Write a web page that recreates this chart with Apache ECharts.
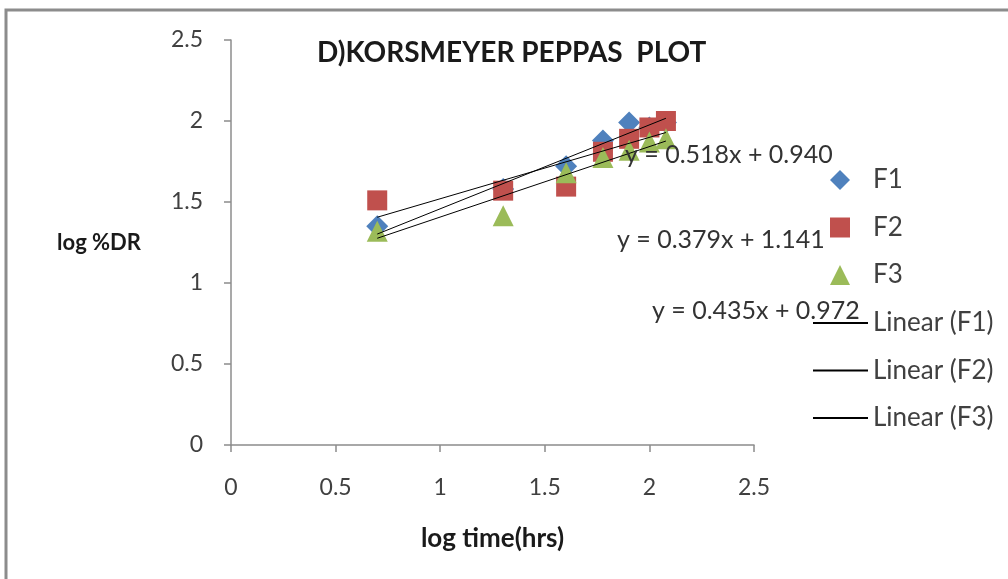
<!DOCTYPE html>
<html>
<head>
<meta charset="utf-8">
<script src="https://cdn.jsdelivr.net/npm/echarts@6/dist/echarts.min.js"></script>
<style>
html,body{margin:0;padding:0;background:#fff;}
#chart{width:1008px;height:579px;}
</style>
</head>
<body>
<div id="chart"></div>
<script>
// log time (hrs)
const logTime = [0.699, 1.301, 1.602, 1.778, 1.903, 2.0, 2.079];
// log %DR for each formulation
const f1 = [1.35, 1.58, 1.72, 1.88, 1.99, 1.96, 1.99];
const f2 = [1.51, 1.57, 1.595, 1.81, 1.89, 1.96, 2.0];
const f3 = [1.32, 1.415, 1.68, 1.775, 1.82, 1.87, 1.89];
const seriesNames = ['F1', 'F2', 'F3'];
const trendSlopes = [0.518, 0.379, 0.435];
const trendIntercepts = [0.940, 1.141, 0.972];
const equationTexts = ['y = 0.518x + 0.940', 'y = 0.379x + 1.141', 'y = 0.435x + 0.972'];
const axisTicks = [0, 0.5, 1, 1.5, 2, 2.5];

const FONT = 'Lato';
const colors = ['#4F81BD', '#C0504D', '#9BBB59'];
const symbols = ['diamond', 'rect', 'triangle'];
const symbolSizes = [22, 20, 21];
const allY = [f1, f2, f3];

const xMin = Math.min.apply(null, logTime);
const xMax = Math.max.apply(null, logTime);

const scatterSeries = seriesNames.map((n, i) => ({
  name: n,
  type: 'scatter',
  symbol: symbols[i],
  symbolSize: symbolSizes[i],
  itemStyle: { color: colors[i], opacity: 1 },
  z: 2,
  data: logTime.map((x, k) => [x, allY[i][k]])
}));

const trendNames = seriesNames.map(n => 'Linear (' + n + ')');
const trendSeries = seriesNames.map((n, i) => ({
  name: trendNames[i],
  type: 'line',
  symbol: 'none',
  lineStyle: { color: '#000', width: 1 },
  itemStyle: { color: '#000' },
  z: 3,
  data: [[xMin, trendSlopes[i] * xMin + trendIntercepts[i]],
         [xMax, trendSlopes[i] * xMax + trendIntercepts[i]]]
}));

const eqPos = [[625, 142], [617, 227], [652, 298]];

const chart = echarts.init(document.getElementById('chart'), null, { renderer: 'canvas' });
chart.setOption({
  animation: false,
  backgroundColor: '#fff',
  textStyle: { fontFamily: FONT },
  title: {
    text: 'D)KORSMEYER PEPPAS  PLOT',
    left: 312, top: 34,
    textStyle: { fontFamily: FONT, fontWeight: 'bold', fontSize: 28, color: '#1a1a1a' }
  },
  grid: { left: 231, right: 254, top: 40, bottom: 134, containLabel: false },
  xAxis: {
    type: 'value', min: axisTicks[0], max: axisTicks[axisTicks.length - 1], interval: 0.5,
    name: 'log time(hrs)', nameLocation: 'middle', nameGap: 81,
    nameTextStyle: { fontFamily: FONT, fontWeight: 'bold', fontSize: 26, color: '#1a1a1a' },
    axisLine: { lineStyle: { color: '#8c8c8c', width: 1.5 } },
    axisTick: { show: true, inside: false, length: 7, lineStyle: { color: '#8c8c8c', width: 1.5 } },
    axisLabel: { fontFamily: FONT, fontSize: 23, color: '#404040', margin: 31 },
    splitLine: { show: false }
  },
  yAxis: {
    type: 'value', min: axisTicks[0], max: axisTicks[axisTicks.length - 1], interval: 0.5,
    name: 'log %DR', nameLocation: 'middle', nameGap: 90, nameRotate: 0,
    nameTextStyle: { fontFamily: FONT, fontWeight: 'bold', fontSize: 22, color: '#1a1a1a', align: 'right' },
    axisLine: { show: true, lineStyle: { color: '#8c8c8c', width: 1.5 } },
    axisTick: { show: true, inside: false, length: 7, lineStyle: { color: '#8c8c8c', width: 1.5 } },
    axisLabel: { fontFamily: FONT, fontSize: 23, color: '#404040', margin: 28 },
    splitLine: { show: false }
  },
  legend: [
    {
      orient: 'vertical',
      left: 825, top: 162,
      itemWidth: 20, itemHeight: 20,
      itemGap: 21.5,
      textStyle: { fontFamily: FONT, fontSize: 26, color: '#404040', lineHeight: 26, padding: [0, 0, 0, 18] },
      data: seriesNames.map((n, i) => ({ name: n, icon: symbols[i] }))
    },
    {
      orient: 'vertical',
      left: 808, top: 305,
      itemWidth: 55, itemHeight: 2,
      itemGap: 21.5,
      textStyle: { fontFamily: FONT, fontSize: 26, color: '#404040', lineHeight: 26 },
      data: trendNames.map(n => ({ name: n, icon: 'rect' }))
    }
  ],
  graphic: [
    { type: 'rect', shape: { x: 6, y: 10, width: 1100, height: 700 },
      style: { fill: 'none', stroke: '#8c8c8c', lineWidth: 3 }, silent: true, z: -1 }
  ].concat(equationTexts.map((t, i) => ({
    type: 'text', left: eqPos[i][0], top: eqPos[i][1], z: 10,
    style: { text: t, font: '25px ' + FONT, fill: '#333' }
  }))),
  series: scatterSeries.concat(trendSeries)
});
</script>
</body>
</html>
